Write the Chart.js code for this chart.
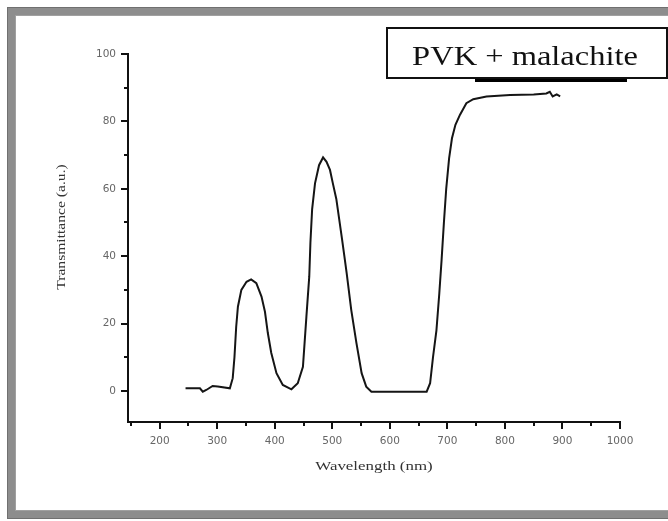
<!DOCTYPE html>
<html>
<head>
<meta charset="utf-8">
<script src="https://cdn.jsdelivr.net/npm/chart.js@4.4.1/dist/chart.umd.min.js"></script>
<style>
    html, body { margin: 0; padding: 0; background: #fff; }
    #wrap { position: relative; width: 668px; height: 521px; overflow: hidden; }
    #frame {
        position: absolute; left: 8px; top: 8px; width: 700px; height: 496px;
        border: 7px solid #8d8d8d; box-shadow: inset 0 0 0 1px #a0a0a0, 0 0 0 1px #707070;
    }
    #myChart { position: absolute; left: 0; top: 0; }
</style>
</head>
<body>
<div id="wrap">
    <div id="frame"></div>
    <canvas id="myChart" width="668" height="521"></canvas>
</div>
<script>
// values
let wavelength = [245, 270, 275, 281, 292, 301, 322, 327, 330, 333, 336, 342, 351, 359, 368, 377, 383, 388, 394, 403, 414, 429,
    440, 449, 455, 460, 462, 465, 470, 477, 484, 490, 496, 501, 507, 512, 517, 521, 525, 533, 542, 551, 559, 568,
    664, 670, 675, 681, 686, 690, 694, 698, 703, 708, 714, 722, 733, 745, 768, 809, 850, 872, 878, 883, 890, 896]
let transmittance = [0.8, 0.8, -0.2, 0.3, 1.5, 1.3, 0.8, 3.8, 10, 19, 25, 30, 32.4, 33.1, 32, 28, 23.5, 17.2, 11.3, 5.3, 1.8, 0.5,
    2.3, 7.2, 22, 34, 44, 54, 61.6, 67, 69.3, 68, 65.6, 61.6, 57, 51, 45, 40, 35, 24, 14.2, 5.3, 1.3, -0.2,
    -0.2, 2.3, 10, 18, 29, 39, 50, 60, 69, 75, 79, 82, 85.4, 86.6, 87.4, 87.8, 88, 88.3, 88.8, 87.4, 88, 87.4]

let xTicks = [200, 300, 400, 500, 600, 700, 800, 900, 1000]
let yTicks = [0, 20, 40, 60, 80, 100]
let xMinorTicks = [150, 250, 350, 450, 550, 650, 750, 850, 950]
let yMinorTicks = [10, 30, 50, 70, 90]

let legendText = "PVK + malachite"
let xTitle = "Wavelength (nm)"
let yTitle = "Transmittance (a.u.)"

let points = wavelength.map(function (w, i) {
    return {x: w, y: transmittance[i]}
})

// text that is a little wider than the font, like the scanned picture
function wideText(ctx, text, x, y, stretch, rotate) {
    ctx.save()
    ctx.translate(x, y)
    if (rotate) ctx.rotate(-Math.PI / 2)
    ctx.scale(stretch, 1)
    ctx.fillText(text, 0, 0)
    ctx.restore()
}

// tick marks drawn through the scales, with short minor ones
const tickMarks = {
    id: 'tickMarks',
    afterDraw(chart) {
        let ctx = chart.ctx
        let xs = chart.scales.x
        let ys = chart.scales.y
        let area = chart.chartArea
        ctx.save()
        ctx.strokeStyle = '#111'
        ctx.lineWidth = 2
        ctx.beginPath()
        xTicks.forEach(function (v) {
            let px = Math.round(xs.getPixelForValue(v))
            ctx.moveTo(px, area.bottom); ctx.lineTo(px, area.bottom + 7)
        })
        xMinorTicks.forEach(function (v) {
            let px = Math.round(xs.getPixelForValue(v))
            ctx.moveTo(px, area.bottom); ctx.lineTo(px, area.bottom + 4)
        })
        yTicks.forEach(function (v) {
            let py = Math.round(ys.getPixelForValue(v))
            ctx.moveTo(area.left, py); ctx.lineTo(area.left - 7, py)
        })
        yMinorTicks.forEach(function (v) {
            let py = Math.round(ys.getPixelForValue(v))
            ctx.moveTo(area.left, py); ctx.lineTo(area.left - 4, py)
        })
        ctx.stroke()

        // axis titles
        ctx.fillStyle = '#333'
        ctx.font = '13px "Liberation Serif", serif'
        ctx.textAlign = 'center'
        ctx.textBaseline = 'middle'
        wideText(ctx, xTitle, (area.left + area.right) / 2, 467, 1.3, false)
        wideText(ctx, yTitle, 62, 227, 1.2, true)

        // legend box in the upper right
        ctx.fillStyle = '#fff'
        ctx.fillRect(387, 28, 280, 50)
        ctx.lineWidth = 2
        ctx.strokeStyle = '#111'
        ctx.strokeRect(387, 28, 280, 50)
        ctx.fillStyle = '#000'
        ctx.fillRect(475, 79, 152, 3)
        ctx.fillStyle = '#111'
        ctx.font = '28px "Liberation Serif", "DejaVu Serif", serif'
        ctx.textBaseline = 'alphabetic'
        wideText(ctx, legendText, 525, 65, 1.16, false)
        ctx.restore()
    }
}

new Chart("myChart", {
    type: "line",
    data: {
        datasets: [{
            data: points,
            borderColor: '#151515',
            borderWidth: 2,
            pointRadius: 0,
            tension: 0,
            fill: false
        }]
    },
    options: {
        responsive: false,
        animation: false,
        layout: {padding: {left: 0, top: 54, right: 48, bottom: 0}},
        plugins: {
            legend: {display: false},
            tooltip: {enabled: false}
        },
        scales: {
            x: {
                type: 'linear',
                min: 145,
                max: 1000,
                afterFit: function (scale) { scale.height = 99 },
                afterBuildTicks: function (scale) {
                    scale.ticks = xTicks.map(function (v) { return {value: v} })
                },
                grid: {display: false, drawTicks: false},
                border: {display: true, color: '#111', width: 2},
                ticks: {
                    padding: 13,
                    color: '#666',
                    font: {family: 'DejaVu Sans', size: 10.5},
                    maxRotation: 0,
                    autoSkip: false,
                    callback: function (v) { return String(v) }
                }
            },
            y: {
                min: -9.2,
                max: 100,
                afterFit: function (scale) { scale.width = 128 },
                afterBuildTicks: function (scale) {
                    scale.ticks = yTicks.map(function (v) { return {value: v} })
                },
                grid: {display: false, drawTicks: false},
                border: {display: true, color: '#111', width: 2},
                ticks: {
                    padding: 12,
                    color: '#666',
                    font: {family: 'DejaVu Sans', size: 10.5},
                    autoSkip: false,
                    callback: function (v) { return String(v) }
                }
            }
        }
    },
    plugins: [tickMarks]
});
</script>
</body>
</html>
